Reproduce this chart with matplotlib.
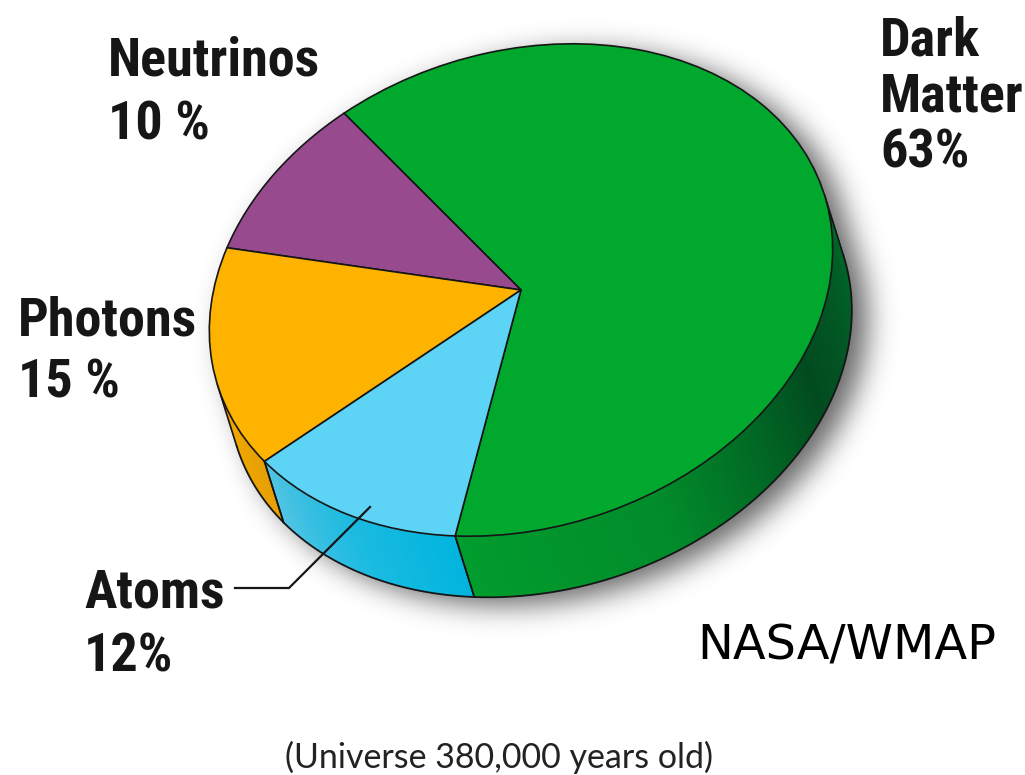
import numpy as np
import matplotlib
matplotlib.use("Agg")
import matplotlib.pyplot as plt
from matplotlib.transforms import Affine2D
from matplotlib.collections import PolyCollection
from matplotlib.colors import LinearSegmentedColormap

# ---- data -------------------------------------------------------------
components = ["Dark Matter", "Neutrinos", "Photons", "Atoms"]
shares = [63, 10, 15, 12]
name_lines = [["Dark", "Matter"], ["Neutrinos"], ["Photons"], ["Atoms"]]
pct_labels = ["63%", "10 %", "15 %", "12%"]
credit = "NASA/WMAP"
caption = "(Universe 380,000 years old)"

# ---- styling ----------------------------------------------------------
top_colors = ["#00A82D", "#984A8F", "#FDB300", "#5DD3F5"]
side_stops = [
    ["#009E2D", "#008C2A", "#004B1E", "#006A2A"],
    ["#7A3A73", "#7A3A73"],
    ["#F2A900", "#E9A000"],
    ["#52C6E6", "#1CBDE3", "#00B6E0"],
]
ink = "#161616"
label_font = ["Roboto Condensed", "Roboto", "DejaVu Sans"]

W, H = 1025, 775
fig = plt.figure(figsize=(W / 100, H / 100), dpi=100)
ax = fig.add_axes([0, 0, 1, 1])

# tilted disc: unit circle -> ellipse on the page
cx, cy = 521, H - 290
semi_a, semi_b = 318, 238
tilt = 17.4
depth = 64
top = (Affine2D().rotate_deg(-tilt).scale(semi_a, semi_b)
       .rotate_deg(tilt).translate(cx, cy))
drop = depth * np.array([np.sin(np.radians(tilt)), -np.cos(np.radians(tilt))])
bottom = top + Affine2D().translate(*drop)

wedges, _ = ax.pie(shares, colors=top_colors, startangle=262,
                   counterclock=True, radius=1, center=(0, 0),
                   wedgeprops=dict(edgecolor=ink, linewidth=1.2))
for w in wedges:
    w.set_transform(top + ax.transData)
    w.set_zorder(5)


def ring(tr, th):
    t = np.radians(th)
    return tr.transform(np.column_stack([np.cos(t), np.sin(t)]))


# ---- soft drop shadow under the cylinder ---------------------------------
gx, gy = np.meshgrid(np.arange(W) + 0.5, np.arange(H) + 0.5)
pts = np.column_stack([gx.ravel(), gy.ravel()])
mask = np.zeros(W * H, dtype=bool)
for f in np.linspace(0, 1, 9):
    tr = top + Affine2D().translate(*(drop * f + np.array([16, -8])))
    uv = tr.inverted().transform(pts)
    mask |= (uv ** 2).sum(axis=1) <= 1
mask = mask.reshape(H, W).astype(float)


def gaussian_blur(img, sigma):
    ky = np.fft.fftfreq(img.shape[0])
    kx = np.fft.rfftfreq(img.shape[1])
    g = np.exp(-2 * (np.pi * sigma) ** 2 * (ky[:, None] ** 2 + kx[None, :] ** 2))
    return np.fft.irfft2(np.fft.rfft2(img) * g, s=img.shape)


shade = np.clip(gaussian_blur(mask, 14), 0, 1)
rgba = np.zeros((H, W, 4))
rgba[..., 3] = 0.6 * shade
ax.imshow(rgba, extent=(0, W, 0, H), origin="lower", zorder=1,
          interpolation="bilinear")

# ---- visible side wall ---------------------------------------------------
lo, hi = tilt + 180, tilt + 360
for w, stops in zip(wedges, side_stops):
    cmap = LinearSegmentedColormap.from_list("side", stops)
    for k in (-1, 0, 1):
        s = max(w.theta1 + 360 * k, lo)
        e = min(w.theta2 + 360 * k, hi)
        if e <= s:
            continue
        n = max(2, int((e - s) / 0.5))
        th = np.linspace(s, e, n + 1)
        up, dn = ring(top, th), ring(bottom, th)
        quads = [np.array([up[i], up[i + 1], dn[i + 1], dn[i]]) for i in range(n)]
        cols = cmap((np.arange(n) + 0.5) / n)
        ax.add_collection(PolyCollection(quads, facecolors=cols,
                                         edgecolors=cols, linewidths=0.4,
                                         zorder=3))

# side outline: lower rim, silhouettes and seams between slices
th = np.linspace(lo, hi, 400)
rim = ring(bottom, th)
ax.plot(rim[:, 0], rim[:, 1], color=ink, lw=1.3, zorder=4)
seams = [lo, hi]
for w in wedges:
    for edge in (w.theta1, w.theta2):
        for k in (-1, 0, 1):
            if lo < edge + 360 * k < hi:
                seams.append(edge + 360 * k)
for sa in seams:
    p, q = ring(top, [sa])[0], ring(bottom, [sa])[0]
    ax.plot([p[0], q[0]], [p[1], q[1]], color=ink, lw=1.2, zorder=4)

# ---- labels --------------------------------------------------------------
label_pos = {
    "Dark Matter": (880, [55, 112, 167]),
    "Neutrinos": (108, [76, 140]),
    "Photons": (18, [335, 398]),
    "Atoms": (84, [608, 672]),
}
for name, lines, pct in zip(components, name_lines, pct_labels):
    x0, baselines = label_pos[name]
    for txt, by in zip(lines + [pct], baselines):
        ax.text(x0, H - by, txt, fontsize=39, fontweight="bold",
                family=label_font, color=ink, ha="left", va="baseline",
                zorder=7)

# leader line for the atoms slice
ax.plot([235, 289, 370], [H - 588, H - 588, H - 507], color=ink, lw=1.6,
        zorder=6, solid_joinstyle="miter")

ax.text(697, H - 660, credit, fontsize=34.5, family="DejaVu Sans",
        color="black", ha="left", va="baseline", zorder=7)
ax.text(499, H - 768, caption, fontsize=24.5, family=["Lato", "DejaVu Sans"],
        color="#222222", ha="center", va="baseline", zorder=7)

ax.set_xlim(0, W)
ax.set_ylim(0, H)
ax.set_aspect("auto")
ax.axis("off")
fig.savefig("out.png", dpi=100, facecolor="white")
